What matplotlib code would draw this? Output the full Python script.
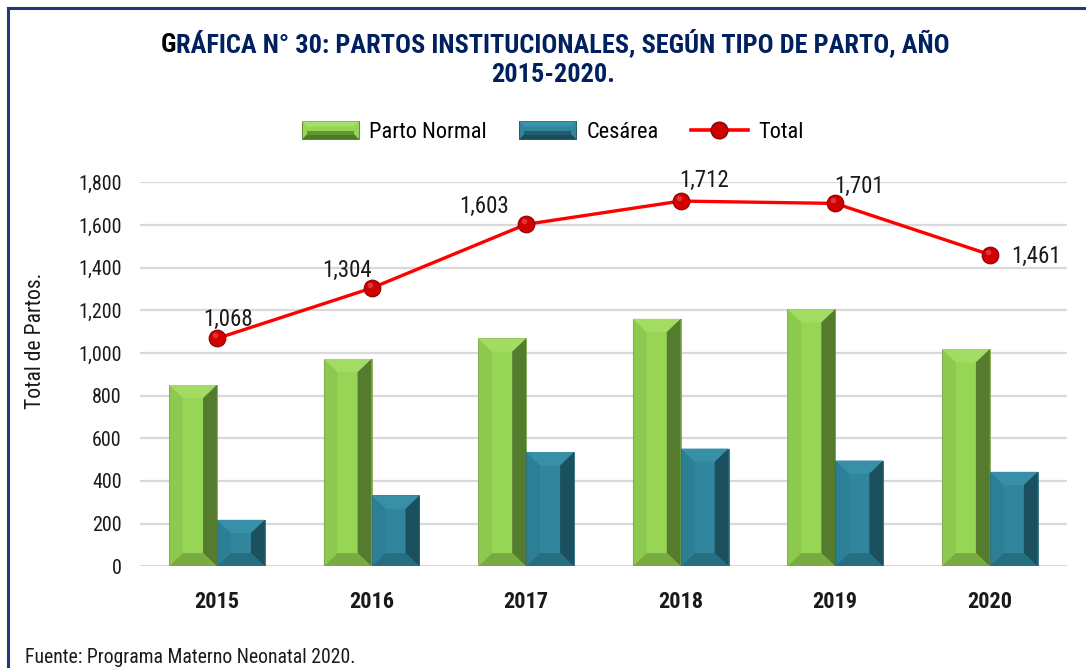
import matplotlib
matplotlib.use("Agg")
import matplotlib.pyplot as plt
from matplotlib import font_manager
from matplotlib.patches import Polygon, Patch, Rectangle
from matplotlib.lines import Line2D
from matplotlib.legend_handler import HandlerPatch
import numpy as np

# ---------------- data ----------------
years = ["2015", "2016", "2017", "2018", "2019", "2020"]
parto_normal = [850, 972, 1068, 1160, 1205, 1018]
cesarea = [218, 332, 535, 552, 496, 443]
total = [1068, 1304, 1603, 1712, 1701, 1461]
y_ticks = [0, 200, 400, 600, 800, 1000, 1200, 1400, 1600, 1800]

title_first = "G"
title_rest = "RÁFICA N° 30: PARTOS INSTITUCIONALES, SEGÚN TIPO DE PARTO, AÑO"
title_line2 = "2015-2020."
ylabel = "Total de Partos."
source = "Fuente: Programa Materno Neonatal 2020."
legend_labels = ["Parto Normal", "Cesárea", "Total"]

# label offsets (points) for the total labels
label_offsets = [(8, 14), (-18, 13), (-30, 13), (17, 15), (17, 12), (33, -1)]

# ---------------- fonts ----------------
names = {f.name for f in font_manager.fontManager.ttflist}
FAM = None
for cand in ["Liberation Sans Narrow", "Arial Narrow", "Roboto Condensed", "Open Sans Condensed"]:
    if cand in names:
        FAM = [cand, "DejaVu Sans"]
        break
if FAM is None:
    FAM = ["Liberation Sans", "DejaVu Sans"]
    base = 12.5
else:
    base = 14.5
plt.rcParams["font.family"] = FAM

GREEN = "#96D654"
TEAL = "#31869E"
NAVY = "#002060"
TXT = "#1A1A1A"

fig = plt.figure(figsize=(10.86, 6.68), dpi=100)
ax = fig.add_axes([0.1286, 0.1522, 0.854, 0.5749])

x = np.arange(len(years))
w = 0.31
b1 = ax.bar(x - w / 2, parto_normal, w, color=GREEN, edgecolor="#7FA84A", linewidth=0.6, zorder=3)
b2 = ax.bar(x + w / 2, cesarea, w, color=TEAL, edgecolor="#2A6E80", linewidth=0.6, zorder=3)


def bevel(container, light, dark, darker, bx=0.09, by=62):
    for p in container.patches:
        x0, y0 = p.get_x(), p.get_y()
        x1, y1 = x0 + p.get_width(), y0 + p.get_height()
        top = [(x0, y1), (x1, y1), (x1 - bx, y1 - by), (x0 + bx, y1 - by)]
        right = [(x1, y1), (x1, y0), (x1 - bx, y0 + by), (x1 - bx, y1 - by)]
        bottom = [(x0, y0), (x1, y0), (x1 - bx, y0 + by), (x0 + bx, y0 + by)]
        left = [(x0, y0), (x0, y1), (x0 + bx, y1 - by), (x0 + bx, y0 + by)]
        ax.add_patch(Polygon(top, closed=True, color=light, lw=0, zorder=4))
        ax.add_patch(Polygon(left, closed=True, color=dark, lw=0, zorder=4, alpha=0.22))
        ax.add_patch(Polygon(right, closed=True, color=darker, lw=0, zorder=4, alpha=0.7))
        ax.add_patch(Polygon(bottom, closed=True, color=dark, lw=0, zorder=4, alpha=0.75))


bevel(b1, "#A2DC62", "#6F9F3C", "#3A5520")
bevel(b2, "#3890A8", "#23687B", "#123A45")

ax.plot(x, total, color="#FF0000", lw=2.4, zorder=5, marker="o", markersize=12,
        markerfacecolor="#D00000", markeredgecolor="#8A0000", markeredgewidth=0.8)
ax.plot(x - 0.012, np.array(total) + 14, linestyle="none", marker="o", markersize=4,
        markerfacecolor="#F06060", markeredgewidth=0, zorder=6, alpha=0.55)

for xi, v, off in zip(x, total, label_offsets):
    ax.annotate(f"{v:,}", (xi, v), xytext=off, textcoords="offset points",
                ha="center", va="center", fontsize=base + 2,
                color=TXT, zorder=7, annotation_clip=False)

ax.set_xlim(-0.5, len(years) - 0.5)
ax.set_ylim(0, 1800)
ax.set_yticks(y_ticks)
ax.set_yticklabels([f"{t:,}" for t in y_ticks], fontsize=base, color=TXT)
ax.set_xticks(x)
ax.set_xticklabels(years, fontsize=base + 1.5, fontweight="bold", color=TXT)
ax.tick_params(axis="y", length=0, pad=13)
ax.tick_params(axis="x", length=0, pad=17.5)
ax.grid(axis="y", color="#D9D9D9", lw=1.6, zorder=0)
ax.set_axisbelow(True)
for s in ax.spines.values():
    s.set_visible(False)
ax.set_ylabel(ylabel, fontsize=base + 1.1, color=TXT)
ax.yaxis.set_label_coords(-0.101, 0.586)


# legend with bevelled patch handles
class BevelHandler(HandlerPatch):
    def __init__(self, dark, light):
        super().__init__()
        self.dark = dark
        self.light = light

    def create_artists(self, legend, orig_handle, xdescent, ydescent, width, height, fontsize, trans):
        x0, y0 = -xdescent, -ydescent
        b = height * 0.28
        base_r = Rectangle((x0, y0), width, height, facecolor=orig_handle.get_facecolor(),
                           edgecolor=self.dark, lw=0.6, transform=trans)
        bot = Polygon([(x0, y0), (x0 + width, y0), (x0 + width - b, y0 + b), (x0 + b, y0 + b)],
                      closed=True, facecolor=self.dark, lw=0, transform=trans)
        mid = Rectangle((x0 + b, y0 + b), width - 2 * b, height * 0.2, facecolor=self.dark,
                        lw=0, alpha=0.7, transform=trans)
        top = Polygon([(x0, y0 + height), (x0 + width, y0 + height), (x0 + width - b, y0 + height - b),
                       (x0 + b, y0 + height - b)], closed=True, facecolor=self.light, lw=0, transform=trans)
        return [base_r, bot, mid, top]


hg = Patch(facecolor=GREEN)
ht = Patch(facecolor=TEAL)
hl = Line2D([0], [0], color="#FF0000", lw=2.6, marker="o", markersize=12,
            markerfacecolor="#D00000", markeredgecolor="#8A0000")
fig.legend([hg, ht, hl], legend_labels, loc="center", bbox_to_anchor=(0.509, 0.802), ncol=3,
           frameon=False, fontsize=base + 1.6, handlelength=2.55,
           handleheight=0.85, columnspacing=1.45, handletextpad=0.45,
           handler_map={hg: BevelHandler("#4F7A28", "#A8DE6C"),
                        ht: BevelHandler("#1A4C59", "#3A93AB")})

# title: first letter black, rest navy
tfs = base + 4.5
fig.canvas.draw()
r = fig.canvas.get_renderer()
tmp = fig.text(0, 0, title_first + title_rest, fontsize=tfs, fontweight="bold")
wfull = tmp.get_window_extent(r).width
tmp.remove()
tg = fig.text(0, 0, title_first, fontsize=tfs, fontweight="bold")
wg = tg.get_window_extent(r).width
tg.remove()
cx = 0.511 * fig.bbox.width
xstart = (cx - wfull / 2) / fig.bbox.width
y1 = 1 - 52 / 668
fig.text(xstart, y1, title_first, fontsize=tfs, fontweight="bold", color="black", ha="left", va="baseline")
fig.text(xstart + wg / fig.bbox.width, y1, title_rest, fontsize=tfs, fontweight="bold", color=NAVY,
         ha="left", va="baseline")
fig.text(0.509, 1 - 82 / 668, title_line2, fontsize=tfs, fontweight="bold", color=NAVY,
         ha="center", va="baseline")

# source
fig.text(25 / 1086, 1 - 657.5 / 668, source, fontsize=base - 0.3, color=TXT, ha="left", va="center")

# frame
fig.add_artist(Line2D([8 / 1086, 1.0], [1 - 8 / 668, 1 - 8 / 668], color="#1F3A7A", lw=2.2,
                      transform=fig.transFigure))
fig.add_artist(Line2D([8 / 1086, 8 / 1086], [1 - 8 / 668, 0.0], color="#1F3A7A", lw=2.2,
                      transform=fig.transFigure))

fig.savefig("out.png", dpi=100)
